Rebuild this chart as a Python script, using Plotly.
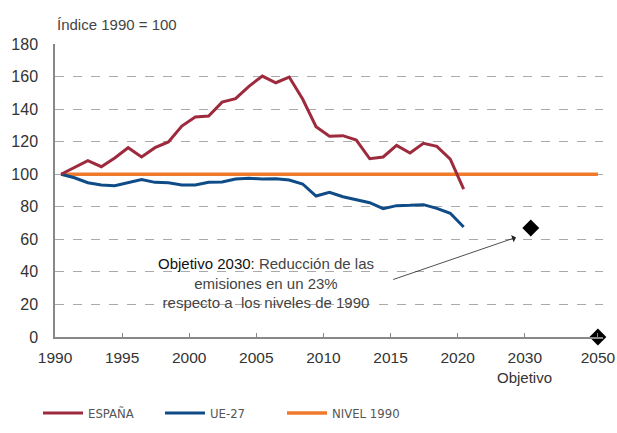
import plotly.graph_objects as go

# ---- data ----
years = list(range(1990, 2021))
espana = [100, 104, 108.3, 104.6, 110, 116.3, 110.6, 116.3, 119.8, 129.6,
          135.1, 135.7, 144.3, 146.4, 154, 160.3, 156.2, 159.7, 146.2, 129.2,
          123.3, 123.7, 121, 109.5, 110.6, 117.7, 113, 119, 117.1, 109.3, 90.9]
ue27 = [100, 97.8, 94.8, 93.4, 92.9, 94.8, 96.8, 95, 94.8, 93.4,
        93.4, 95, 95.2, 97, 97.5, 97, 97.2, 96.4, 94, 86.6,
        88.9, 86.2, 84.4, 82.5, 78.8, 80.7, 80.9, 81.3, 79, 76, 67.6]
nivel_1990 = 100
target_labels = ["2030", "2050"]
target_values = [67, 0]
tick_labels = ["1990", "1995", "2000", "2005", "2010", "2015", "2020", "2030", "2050"]

# ---- axis layout (category-like compressed axis) ----
POINT_OFFSET = 0.45
def axis_pos(label):
    y = int(label)
    if y <= 2020:
        return y - 1990
    return {2030: 35, 2050: 40.45}[y]

tick_pos = [axis_pos(t) for t in tick_labels]
hist_x = [axis_pos(str(y)) + POINT_OFFSET for y in years]
target_x = [axis_pos("2030") + POINT_OFFSET, axis_pos("2050")]

RED = "#9E2A3E"
BLUE = "#0F4C87"
ORANGE = "#F07A2C"
FONT = "Liberation Sans"

fig = go.Figure()
fig.add_trace(go.Scatter(x=[hist_x[0], target_x[-1]], y=[nivel_1990, nivel_1990],
                         mode="lines", name="NIVEL 1990",
                         line=dict(color=ORANGE, width=3.5)))
fig.add_trace(go.Scatter(x=hist_x, y=ue27, mode="lines", name="UE-27",
                         line=dict(color=BLUE, width=3)))
fig.add_trace(go.Scatter(x=hist_x, y=espana, mode="lines", name="ESPAÑA",
                         line=dict(color=RED, width=3)))
fig.add_trace(go.Scatter(x=target_x, y=target_values, mode="markers",
                         showlegend=False, cliponaxis=False,
                         marker=dict(symbol="diamond", size=13, color="black")))

fig.update_layout(
    width=617, height=433,
    margin=dict(l=55, r=14, t=44, b=96),
    paper_bgcolor="white", plot_bgcolor="white",
    font=dict(family=FONT, color="#333333"),
    showlegend=True,
    legend=dict(orientation="h", xref="container", x=38 / 617, xanchor="left",
                yref="container", y=20 / 433, yanchor="middle",
                traceorder="reversed", entrywidth=67, entrywidthmode="pixels",
                font=dict(family="DejaVu Sans Condensed, Liberation Sans, sans-serif",
                          size=13, color="#555555"),
                itemwidth=40),
    xaxis=dict(range=[0, 40.83], tickmode="array", tickvals=tick_pos, ticktext=tick_labels,
               automargin=False, ticklabelstandoff=5,
               showgrid=False, zeroline=False, showline=True, linecolor="#888888", linewidth=2,
               ticks="inside", ticklen=4, tickcolor="#888888", tickwidth=1,
               tickfont=dict(size=15.5, color="#333333")),
    yaxis=dict(range=[0, 180], tickvals=list(range(0, 181, 20)), automargin=False,
               ticklabelstandoff=12,
               showgrid=True, gridcolor="#AAAAAA", griddash="dash", gridwidth=1,
               zeroline=False, showline=True, linecolor="#888888", linewidth=1.5,
               ticks="", tickfont=dict(size=16, color="#333333")),
)

fig.add_annotation(text="Índice 1990 = 100", xref="paper", yref="paper", x=0, y=1.065,
                   xanchor="left", yanchor="middle", showarrow=False,
                   font=dict(size=15, color="#444444"))
fig.add_annotation(text="Objetivo", xref="x", yref="paper", x=axis_pos("2030"), y=-0.137,
                   xanchor="center", yanchor="middle", showarrow=False,
                   font=dict(size=15, color="#333333"))
fig.add_annotation(text="<span style='color:#111'>Objetivo 2030:</span> Reducción de las<br>"
                        "emisiones en un 23%<br>respecto a  los niveles de 1990",
                   xref="x", yref="y", x=15.7, y=33.2, xanchor="center", yanchor="middle",
                   showarrow=False, align="center",
                   font=dict(size=15, color="#444444"))
fig.add_annotation(text="", xref="x", yref="y", x=34.35, y=61.2,
                   axref="x", ayref="y", ax=25.09, ay=35.0,
                   showarrow=True, arrowhead=1, arrowsize=1.6, arrowwidth=0.8,
                   arrowcolor="#222222")

fig.write_html("out.html", config={"displayModeBar": False},
               post_script="document.body.style.margin='0';")
